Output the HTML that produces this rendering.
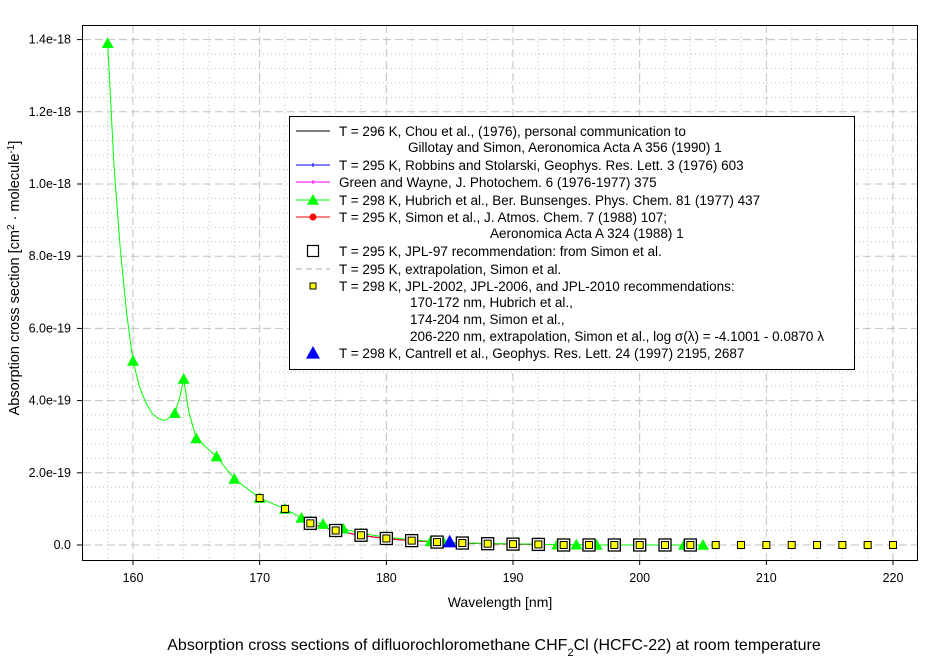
<!DOCTYPE html>
<html><head><meta charset="utf-8"><style>
body{margin:0;background:#fff;}
svg text{font-family:"Liberation Sans",sans-serif;}
</style></head><body>
<svg id="s" width="942" height="662" xmlns="http://www.w3.org/2000/svg"></svg>
<script>
const s=document.getElementById('s');
const X=w=>133+(w-160)*12.667, Y=v=>545-v*36.1; // v in 1e-19
let h='';
for(let w=158;w<=222;w+=2){const x=X(w);if(x<83||x>917)continue;
 const maj=w%10==0;h+=`<line x1="${x}" y1="25" x2="${x}" y2="560" stroke="#c0c0c0" stroke-width="1" stroke-dasharray="${maj?'8,4':'1,3'}"/>`;}
for(let v=-0.4;v<=14.8;v+=0.4){const y=Y(v);if(y<26||y>559)continue;
 const maj=Math.abs(Math.round(v/2)*2-v)<0.01;h+=`<line x1="83" y1="${y}" x2="917" y2="${y}" stroke="#c0c0c0" stroke-width="1" stroke-dasharray="${maj?'8,4':'1,3'}"/>`;}
h+=`<rect x="82.5" y="25.5" width="835" height="535" fill="none" stroke="#000"/>`;
for(let w=160;w<=220;w+=10){const x=X(w);h+=`<line x1="${x}" y1="560" x2="${x}" y2="565" stroke="#000"/><text x="${x}" y="582" font-size="12.5" text-anchor="middle">${w}</text>`;}
const yl=['0.0','2.0e-19','4.0e-19','6.0e-19','8.0e-19','1.0e-18','1.2e-18','1.4e-18'];
yl.forEach((t,i)=>{const y=Y(i*2);h+=`<line x1="77" y1="${y}" x2="82" y2="${y}" stroke="#000"/><text x="71" y="${y+4}" font-size="12.5" text-anchor="end">${t}</text>`;});
h+=`<text x="500" y="607" font-size="14" text-anchor="middle">Wavelength [nm]</text>`;
h+=`<text transform="translate(19,278) rotate(-90)" font-size="14.5" text-anchor="middle">Absorption cross section [cm<tspan baseline-shift="super" font-size="10">2</tspan> · molecule<tspan baseline-shift="super" font-size="10">-1</tspan>]</text>`;
h+=`<text x="494" y="650" font-size="16" text-anchor="middle">Absorption cross sections of difluorochloromethane CHF<tspan baseline-shift="sub" font-size="11">2</tspan>Cl (HCFC-22)  at room temperature</text>`;
const H=[[158,13.9],[158.5,10.5],[159,8.2],[159.5,6.4],[160,5.1],[160.5,4.4],[161,3.95],[161.5,3.65],[162,3.5],[162.5,3.45],[163,3.55],[163.3,3.65],[163.7,4.1],[164,4.6],[164.4,3.7],[165,2.95],[166.6,2.45],[168,1.83],[170,1.3],[172,1.0],[173.3,0.75],[174,0.65],[175,0.58],[176.6,0.45],[178,0.32],[180,0.22],[182,0.14],[183.5,0.1],[184.5,0.08],[186,0.06],[188,0.04],[190,0.03],[192,0.02],[193.5,0.01],[195,0.01],[196.6,0.0],[203.5,0.0],[205,0.0]];
const pl=a=>a.map(p=>X(p[0]).toFixed(1)+','+Y(p[1]).toFixed(1)).join(' ');
const low=[];for(let w=174;w<=192;w+=1)low.push([w,0.6*Math.exp(-(w-174)*0.2)]);
h+=`<polyline points="${pl(low)}" fill="none" stroke="#f0f" stroke-width="1"/>`;
h+=`<polyline points="${pl(low)}" fill="none" stroke="#00f" stroke-width="1"/>`;
h+=`<polyline points="${pl(low)}" fill="none" stroke="#f00" stroke-width="1"/>`;
h+=`<polyline points="${pl(H)}" fill="none" stroke="#0f0" stroke-width="1"/>`;
const tri=(x,y,c,r)=>`<polygon points="${x},${y-r} ${x-r},${y+r*0.8} ${x+r},${y+r*0.8}" fill="${c}"/>`;
H.forEach(p=>{if([158.5,159,159.5,160.5,161,161.5,162,162.5,163,163.7,164.4].includes(p[0]))return;h+=tri(X(p[0]),Y(p[1]),'#0f0',6);});
h+=tri(X(185),Y(0.09),'#00f',7);
for(let w=174;w<=204;w+=2){const v=w<=192?0.6*Math.exp(-(w-174)*0.2):0;h+=`<rect x="${X(w)-6}" y="${Y(v)-6}" width="12" height="12" fill="#fff" stroke="#000" stroke-width="1.3"/>`;}
for(let w=170;w<=220;w+=2){const v=w<174?(w==170?1.3:1.0):(w<=192?0.6*Math.exp(-(w-174)*0.2):0);h+=`<rect x="${X(w)-3.5}" y="${Y(v)-3.5}" width="7" height="7" fill="#ff0" stroke="#000" stroke-width="1"/>`;}
h+=`<rect x="289.5" y="116.5" width="565" height="253" fill="#fff" stroke="#000"/>`;
const L=[[131,'T = 296 K, Chou et al., (1976), personal communication to',339],[147,'Gillotay and Simon, Aeronomica Acta A 356 (1990) 1',408],[165,'T = 295 K, Robbins and Stolarski, Geophys. Res. Lett. 3 (1976) 603',339],[182,'Green and Wayne,  J. Photochem. 6 (1976-1977) 375',339],[200,'T = 298 K, Hubrich et al., Ber. Bunsenges. Phys. Chem. 81 (1977) 437',339],[217,'T = 295 K, Simon et al., J. Atmos. Chem. 7 (1988) 107;',339],[233,'Aeronomica Acta A 324 (1988) 1',490],[251,'T = 295 K, JPL-97 recommendation: from Simon et al.',339],[269,'T = 295 K, extrapolation, Simon et al.',339],[286,'T = 298 K, JPL-2002, JPL-2006, and JPL-2010 recommendations:',339],[302,'170-172 nm, Hubrich et al.,',410],[319,'174-204 nm, Simon et al.,',410],[336,'206-220 nm, extrapolation, Simon et al., log σ(λ) = -4.1001 - 0.0870 λ',410],[353,'T = 298 K, Cantrell et al., Geophys. Res. Lett. 24 (1997) 2195, 2687',339]];
L.forEach(l=>{h+=`<text x="${l[2]}" y="${l[0]+5}" font-size="13.5">${l[1]}</text>`;});
const ln=(y,c,d)=>`<line x1="296" y1="${y}" x2="330" y2="${y}" stroke="${c}" ${d?'stroke-dasharray="6,4"':''}/>`;
h+=ln(131,'#000')+ln(165,'#00f')+`<line x1="313" y1="163" x2="313" y2="167" stroke="#00f"/>`+ln(182,'#f0f')+`<line x1="313" y1="180" x2="313" y2="184" stroke="#f0f"/>`+ln(200,'#0f0')+tri(313,200,'#0f0',6)+ln(217,'#f00')+`<circle cx="313" cy="217" r="3.5" fill="#f00"/>`;
h+=`<rect x="307.5" y="245.5" width="11" height="11" fill="#fff" stroke="#000" stroke-width="1.2"/>`+ln(269,'#aaa',1)+`<rect x="310" y="283" width="6" height="6" fill="#ff0" stroke="#000"/>`+tri(313,353,'#00f',7);
s.innerHTML=h;
</script>
</body></html>
